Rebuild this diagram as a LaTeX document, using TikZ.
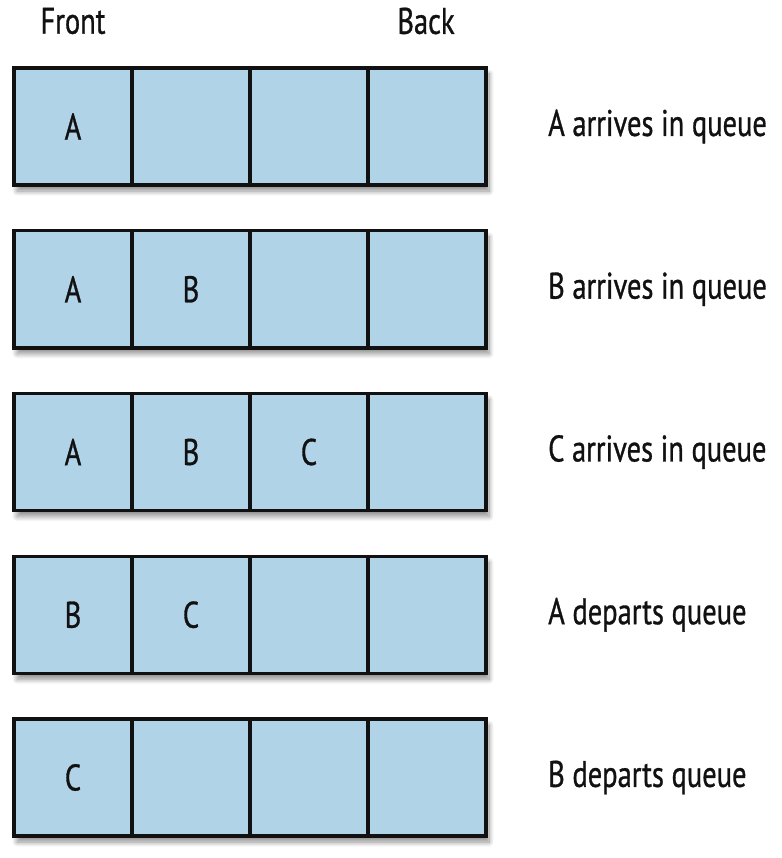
\documentclass[tikz,border=0pt]{standalone}
\usepackage{fontspec}
\setmainfont{PT Sans}[FakeStretch=0.77, FakeBold=0.8]
\usetikzlibrary{shadows.blur}
\definecolor{cellblue}{HTML}{B1D3E8}
\definecolor{ink}{HTML}{111111}
\tikzset{
  txt/.style={text=ink, font=\fontsize{37}{40}\selectfont},
  cell/.style={txt, draw=ink, line width=3.5pt, fill=cellblue, minimum width=118pt, minimum height=117pt, inner sep=0pt},
  frame/.style={draw=ink, line width=3.5pt, fill=cellblue, minimum width=472pt, minimum height=117pt, inner sep=0pt,
    blur shadow={shadow xshift=3pt, shadow yshift=-6pt, shadow blur steps=10, shadow opacity=45, shadow blur radius=5pt}},
  lbl/.style={txt, anchor=west, inner sep=0pt},
  head/.style={txt, inner sep=0pt}
}
\begin{document}
\begin{tikzpicture}[x=1pt, y=-1pt]
\useasboundingbox (0,0) rectangle (781,858);
\node[head] (front) at (73,21) {Front};
\node[head] (back) at (426,21) {Back};
\foreach \r/\a/\b/\c/\t in {1/A///A arrives in queue, 2/A/B//B arrives in queue, 3/A/B/C/C arrives in queue, 4/B/C//A departs queue, 5/C///B departs queue}{
  \pgfmathsetmacro{\yc}{68+58.5+162.75*(\r-1)}
  \node[frame] (row\r) at (250,\yc) {};
  \node[cell] (r\r c1) at (73,\yc) {\a};
  \node[cell] (r\r c2) at (191,\yc) {\b};
  \node[cell] (r\r c3) at (309,\yc) {\c};
  \node[cell] (r\r c4) at (427,\yc) {};
  \node[lbl] (l\r) at (548,\yc) {\t};
}
\end{tikzpicture}
\end{document}
